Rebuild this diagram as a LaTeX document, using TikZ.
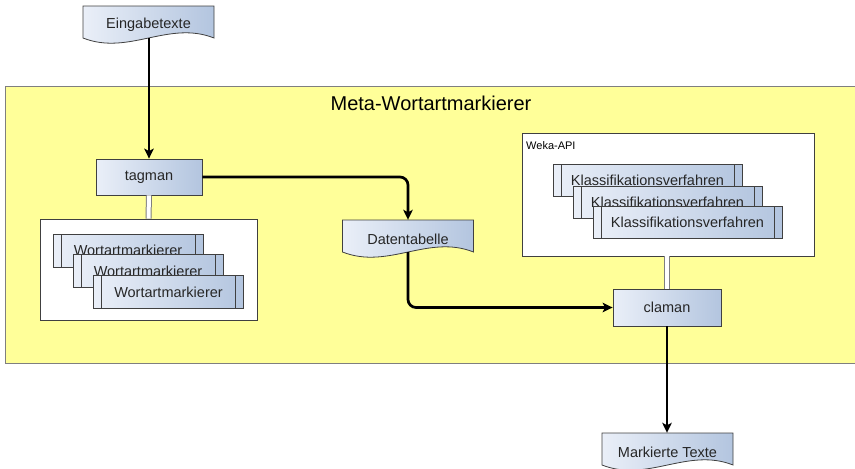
\documentclass[tikz,border=0pt]{standalone}
\usepackage{fontspec}
\setmainfont{Liberation Sans}
\usetikzlibrary{arrows.meta}
\definecolor{gL}{HTML}{EAEFF8}
\definecolor{gR}{HTML}{B3C5DF}
\definecolor{bcol}{HTML}{404040}
\definecolor{ycol}{HTML}{FFFF99}
\definecolor{ybord}{HTML}{7F7F7F}
\newcommand\docnode[4]{%
  \shade[left color=gL,right color=gR,draw=bcol,line width=0.8pt]
    (#2-65.5,#3) -- (#2+65.5,#3) -- (#2+65.5,#3+32)
    .. controls (#2+20,#3+32-18) and (#2-20,#3+32+18) .. (#2-65.5,#3+32) -- cycle;
  \node[docn] (#1) at (#2,#3+19) {#4};
  \coordinate (#1-out) at (#2,#3+32);
}
\tikzset{
  lbl/.style={font=\fontsize{14.5}{17}\selectfont, text=black!85},
  docn/.style={lbl, minimum width=131pt, minimum height=38pt, inner sep=0pt},
  proc/.style={lbl, rectangle, draw=bcol, line width=0.8pt, left color=gL, right color=gR, inner sep=0pt},
  subp/.style={proc, path picture={
      \draw[bcol,line width=0.8pt] ([xshift=8pt]path picture bounding box.north west) -- ([xshift=8pt]path picture bounding box.south west);
      \draw[bcol,line width=0.8pt] ([xshift=-8pt]path picture bounding box.north east) -- ([xshift=-8pt]path picture bounding box.south east);}},
  grp/.style={rectangle, draw=bcol, line width=0.8pt, fill=white, inner sep=0pt},
  arr/.style={draw=black, line width=2.7pt, -{Stealth[length=10pt,width=9.5pt,inset=2.5pt]}},
  dbl/.style={draw=ybord, line width=1pt, double=white, double distance=4pt},
}
\begin{document}
\begin{tikzpicture}[x=1pt,y=-1pt]
\useasboundingbox (0,0) rectangle (855,469);
% yellow container
\node[rectangle, fill=ycol, draw=ybord, line width=1pt, minimum width=852pt, minimum height=277pt, inner sep=0pt] (meta) at (431,224.5) {};
\node[font=\fontsize{20}{24}\selectfont] (metatitle) at (431,103) {Meta-Wortartmarkierer};
% groups
\node[grp, minimum width=217pt, minimum height=101pt] (wgroup) at (148.5,269.5) {};
\node[grp, minimum width=292pt, minimum height=123pt] (weka) at (668,194.5) {};
\node[anchor=west, font=\fontsize{11}{13}\selectfont, inner sep=0pt] (wekalabel) at (526,146) {Weka-API};
% processes
\node[proc, minimum width=106pt, minimum height=36pt] (tagman) at (149,177) {tagman};
\node[proc, minimum width=108pt, minimum height=37pt] (claman) at (667,307.5) {claman};
% stacked subprocesses
\node[subp, minimum width=150pt, minimum height=33pt] (w1) at (128,250.5) {Wortartmarkierer};
\node[subp, minimum width=150pt, minimum height=33pt] (w2) at (148,271) {Wortartmarkierer};
\node[subp, minimum width=150pt, minimum height=33pt] (w3) at (168.5,292) {Wortartmarkierer};
\node[subp, minimum width=189pt, minimum height=32pt] (k1) at (647.5,180.5) {Klassifikationsverfahren};
\node[subp, minimum width=189pt, minimum height=32pt] (k2) at (667.5,202) {Klassifikationsverfahren};
\node[subp, minimum width=189pt, minimum height=32pt] (k3) at (687.5,222.5) {Klassifikationsverfahren};
% documents
\docnode{eingabe}{148.5}{6}{Eingabetexte}
\docnode{daten}{408}{220}{Datentabelle}
\docnode{markiert}{667.5}{433}{Markierte Texte}
% connectors
\draw[dbl] (tagman.south) -- (wgroup.north);
\draw[dbl] (weka.south -| claman.north) -- (claman.north);
\draw[arr] (eingabe-out -| tagman.north) -- (tagman.north);
\draw[arr, rounded corners=8pt] (tagman.east) -| (daten.north);
\draw[arr, rounded corners=8pt] (daten-out) |- (claman.west);
\draw[arr] (claman.south) -- (markiert.north -| claman.south);
\end{tikzpicture}
\end{document}
